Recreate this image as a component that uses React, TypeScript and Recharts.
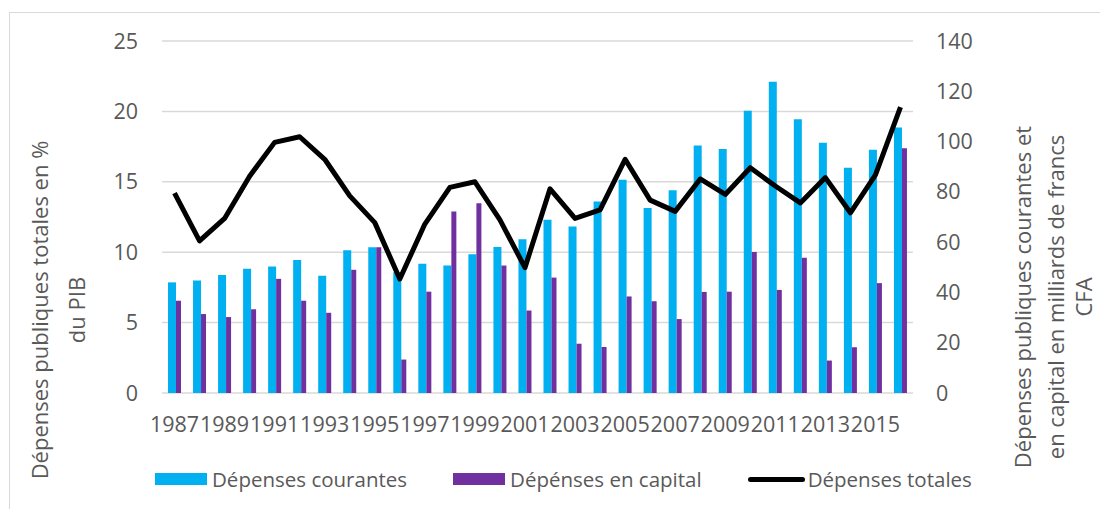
import React from 'react';
import { ComposedChart, Bar, Line, XAxis, YAxis, CartesianGrid, Legend } from 'recharts';

const years = ['1987','1988','1989','1990','1991','1992','1993','1994','1995','1996','1997','1998','1999','2000','2001','2002','2003','2004','2005','2006','2007','2008','2009','2010','2011','2012','2013','2014','2015','2016'];
const depensesCourantes = [44.0, 44.7, 46.9, 49.4, 50.3, 52.9, 46.6, 56.8, 58.0, 48.0, 51.4, 50.7, 55.2, 58.1, 61.2, 68.9, 66.2, 76.2, 84.8, 73.6, 80.6, 98.4, 97.0, 112.3, 123.8, 108.9, 99.5, 89.6, 96.7, 105.6];
const depensesCapital = [36.7, 31.4, 30.2, 33.3, 45.4, 36.7, 31.9, 49.0, 58.0, 13.3, 40.3, 72.2, 75.5, 50.7, 32.8, 45.9, 19.6, 18.3, 38.4, 36.5, 29.4, 40.2, 40.3, 56.1, 41.0, 53.8, 12.9, 18.2, 43.7, 97.3];
const depensesTotales = [14.2, 10.8, 12.4, 15.4, 17.8, 18.2, 16.6, 14.0, 12.1, 8.1, 12.0, 14.6, 15.0, 12.3, 8.9, 14.5, 12.4, 13.0, 16.6, 13.7, 12.9, 15.2, 14.1, 16.0, 14.7, 13.5, 15.3, 12.8, 15.5, 20.3];
const leftTicks = [0, 5, 10, 15, 20, 25];
const rightTicks = [0, 20, 40, 60, 80, 100, 120, 140];
const leftTitle = ['Dépenses publiques totales en %', 'du PIB'];
const rightTitle = ['Dépenses publiques courantes et', 'en capital en milliards de francs', 'CFA'];
const seriesNames = { courantes: 'Dépenses courantes', capital: 'Dépénses en capital', totales: 'Dépenses totales' };

const data = years.map((y, i) => ({
  year: y,
  courantes: depensesCourantes[i],
  capital: depensesCapital[i],
  totales: depensesTotales[i],
}));

const FONT = "'Open Sans', sans-serif";
const TEXT = '#595959';
const GRID = '#d9d9d9';
const CYAN = '#00B0F0';
const PURPLE = '#7030A0';

const legendItems = [
  { key: 'courantes', name: seriesNames.courantes, color: CYAN, kind: 'bar' },
  { key: 'capital', name: seriesNames.capital, color: PURPLE, kind: 'bar' },
  { key: 'totales', name: seriesNames.totales, color: '#000000', kind: 'line' },
];

const LegendContent = () => (
  <div style={{ display: 'flex', alignItems: 'center', height: 30, paddingLeft: 155, fontFamily: FONT, fontSize: 20.5, color: TEXT, whiteSpace: 'nowrap' }}>
    {legendItems.map((s) => (
      <div key={s.key} style={{ display: 'flex', alignItems: 'center', marginRight: 46 }}>
        {s.kind === 'bar' ? (
          <div style={{ width: 52, height: 12, background: s.color, marginRight: 5 }} />
        ) : (
          <div style={{ width: 57, height: 5, background: s.color, borderRadius: 3, marginRight: 3 }} />
        )}
        <span>{s.name}</span>
      </div>
    ))}
  </div>
);

const RotatedTitle = ({ lines, xs, cy }: { lines: string[]; xs: number[]; cy: number }) => (
  <g>
    {lines.map((l, i) => (
      <text key={i} x={xs[i]} y={cy} transform={`rotate(-90 ${xs[i]} ${cy})`} textAnchor="middle" fill={TEXT} fontSize={22} fontFamily={FONT}>
        {l}
      </text>
    ))}
  </g>
);

const tickStyle = { fill: TEXT, fontSize: 21.5, fontFamily: FONT };

export default function App() {
  return (
    <div style={{ position: 'absolute', left: 0, top: 0, width: 1100, height: 509, background: '#fff', overflow: 'hidden' }}>
      <div style={{ position: 'absolute', left: 9, top: 12, width: 1200, height: 600, borderLeft: `1px solid ${GRID}`, borderTop: `1px solid ${GRID}` }} />
      <ComposedChart width={1100} height={509} data={data} margin={{ top: 41, right: 0, left: 0, bottom: 46 }} barGap={0} style={{ position: 'absolute', left: 0, top: 0 }}>
        <CartesianGrid vertical={false} stroke={GRID} strokeWidth={1.5} yAxisId="left" />
        <XAxis dataKey="year" interval={1} axisLine={false} tickLine={false} tick={tickStyle} tickMargin={18} height={40} />
        <YAxis
          yAxisId="left"
          domain={[0, 25]}
          ticks={leftTicks}
          axisLine={false}
          tickLine={false}
          width={162}
          tickMargin={18}
          tick={tickStyle}
          label={() => <RotatedTitle lines={leftTitle} xs={[48, 85]} cy={310} />}
        />
        <YAxis
          yAxisId="right"
          orientation="right"
          domain={[0, 140]}
          ticks={rightTicks}
          axisLine={false}
          tickLine={false}
          width={187}
          tickMargin={17}
          tick={{ ...tickStyle, textAnchor: 'start' }}
          label={() => <RotatedTitle lines={rightTitle} xs={[1031, 1064, 1092]} cy={297} />}
        />
        <Legend
          verticalAlign="bottom"
          content={<LegendContent />}
          wrapperStyle={{ top: 464, bottom: 'auto', left: 0, width: 1100, height: 30 }}
        />
        <Bar yAxisId="right" dataKey="courantes" name={seriesNames.courantes} fill={CYAN} barSize={8} isAnimationActive={false} />
        <Bar yAxisId="right" dataKey="capital" name={seriesNames.capital} fill={PURPLE} barSize={5} isAnimationActive={false} />
        <Line yAxisId="left" type="linear" dataKey="totales" name={seriesNames.totales} stroke="#000" strokeWidth={5} dot={false} activeDot={false} strokeLinejoin="round" isAnimationActive={false} />
      </ComposedChart>
    </div>
  );
}
